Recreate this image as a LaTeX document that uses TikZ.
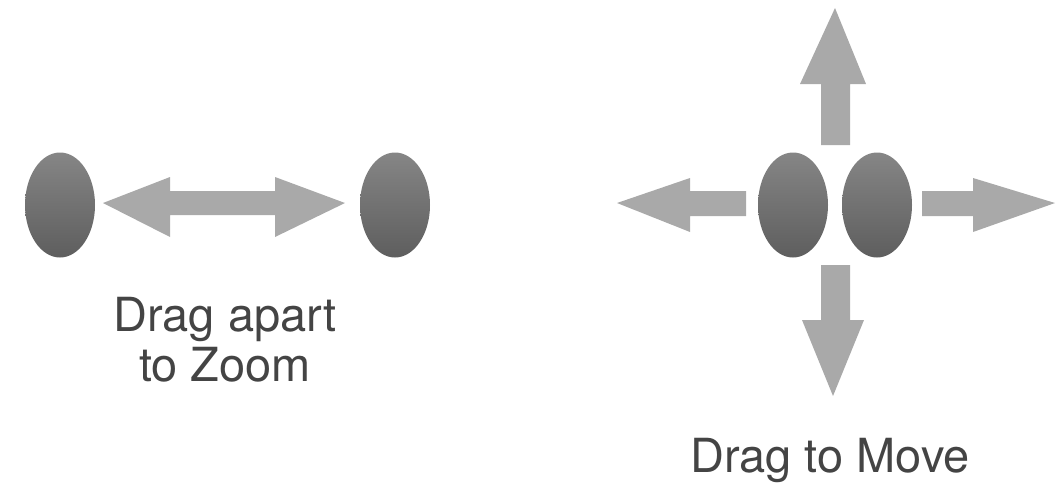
\documentclass[tikz,border=0pt]{standalone}
\usepackage{fontspec}
\setmainfont{TeX Gyre Heros}
\usetikzlibrary{shapes.geometric}
\definecolor{dotc}{HTML}{707070}
\definecolor{dotd}{HTML}{5E5E5E}
\definecolor{arrc}{HTML}{A9A9A9}
\definecolor{txtc}{HTML}{444444}
\tikzset{
  dot/.style={ellipse, minimum width=70pt, minimum height=105pt, inner sep=0pt, draw=none, top color=dotc!85!white, bottom color=dotd},
  arrowshape/.style={fill=arrc, draw=none},
  lbl/.style={text=txtc, font=\fontsize{47}{50}\selectfont, align=center}
}
\begin{document}
\begin{tikzpicture}[x=1pt,y=-1pt]
\useasboundingbox (0,0) rectangle (1059,482);
% left group
\node[dot] (d1) at (60,205) {};
\node[dot] (d2) at (395,205) {};
\fill[arrowshape] (103,203) -- (170,177) -- (170,191) -- (275,191) -- (275,177) -- (345,203) -- (275,237) -- (275,215) -- (170,215) -- (170,237) -- cycle;
\node[lbl] (t1) at (225,340) {Drag apart\\to Zoom};
% right group
\node[dot] (d3) at (793,205) {};
\node[dot] (d4) at (877,205) {};
% up
\fill[arrowshape] (835,8) -- (866,84) -- (850,84) -- (850,145) -- (821,145) -- (821,84) -- (800,84) -- cycle;
% down
\fill[arrowshape] (833,396) -- (864,320) -- (850,320) -- (850,265) -- (821,265) -- (821,320) -- (802,320) -- cycle;
% left
\fill[arrowshape] (617,203) -- (690,178) -- (690,191) -- (746,191) -- (746,216) -- (690,216) -- (690,232) -- cycle;
% right
\fill[arrowshape] (1055,203) -- (973,178) -- (973,191) -- (922,191) -- (922,216) -- (973,216) -- (973,232) -- cycle;
\node[lbl] (t2) at (830,460) {Drag to Move};
\end{tikzpicture}
\end{document}
